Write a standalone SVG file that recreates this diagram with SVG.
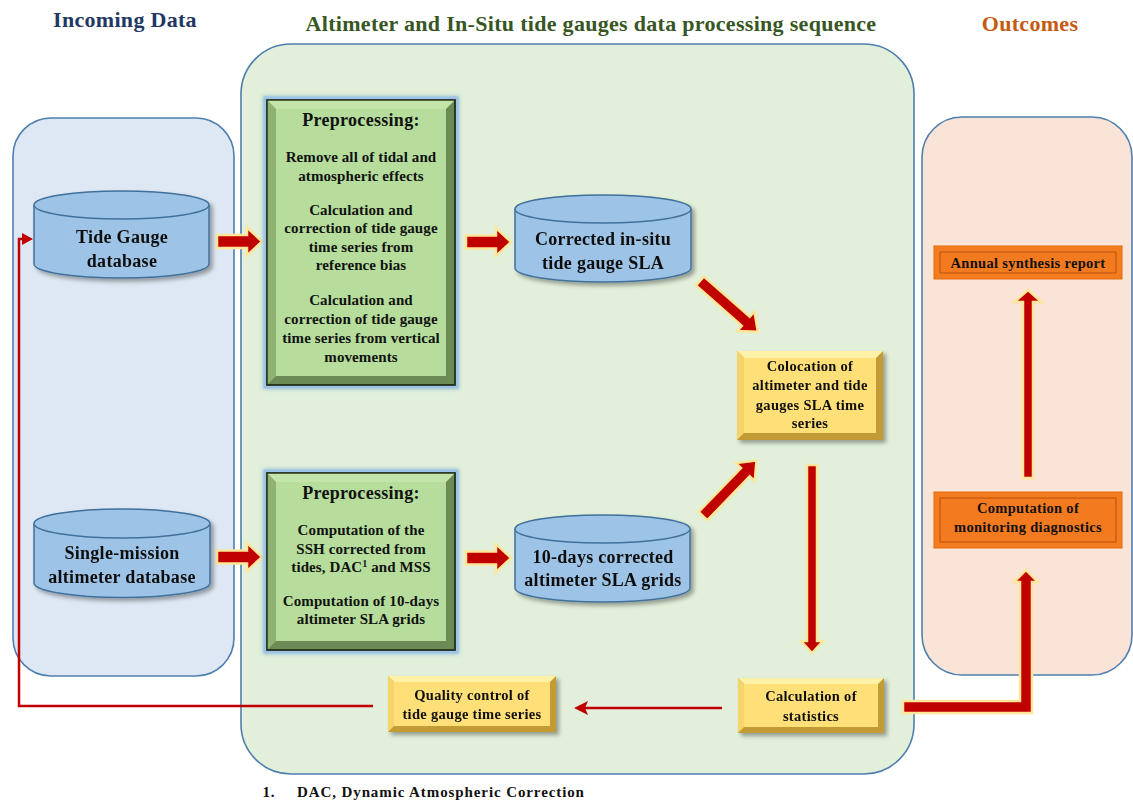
<svg xmlns="http://www.w3.org/2000/svg" width="1133" height="803" viewBox="0 0 1133 803">
<style>
text{font-family:"Liberation Serif","Times New Roman",serif;font-weight:bold;fill:#111;text-anchor:middle}
.hdr{font-size:22px;letter-spacing:0.3px}
.cyl{font-size:18px;letter-spacing:0.3px}
.ttl{font-size:18px;letter-spacing:0.3px}
.body{font-size:15px;letter-spacing:0.1px}
.sm{font-size:14.5px;letter-spacing:0.3px}
.fn{font-size:15px;letter-spacing:0.9px}
.panel{stroke:#4f7fae;stroke-width:1.6}
.cylbody{fill:#9dc3e6;stroke:#41719c;stroke-width:1.5}
.blk{fill:#c00000;stroke:#ffe699;stroke-width:2.5;stroke-linejoin:miter}
.thin{fill:none;stroke:#c00000;stroke-width:2.5}
.gdark{fill:#6c8a55;stroke:#26331e;stroke-width:1.5}
.gtop{fill:#c3e5aa}
.gleft{fill:#8fb272}
.gface{fill:#b6dd9b}
.ydark{fill:#c39b36}
.ytop{fill:#fff1a6}
.yleft{fill:#f5d46a}
.yface{fill:#ffdf78}
.oout{fill:#f47c1e;stroke:#e06a10;stroke-width:1}
.oin{fill:#f47a20;stroke:#b8520f;stroke-width:1}
</style>
<defs>
<filter id="sh" x="-10%" y="-10%" width="130%" height="140%">
<feDropShadow dx="3" dy="3" stdDeviation="2" flood-color="#000" flood-opacity="0.35"/>
</filter>
<filter id="glow" x="-10%" y="-10%" width="120%" height="120%">
<feDropShadow dx="0" dy="0" stdDeviation="2" flood-color="#5b9bd5" flood-opacity="0.8"/>
</filter>
</defs>

<!-- panels -->
<g id="panels">
<rect class="panel" x="13" y="118" width="221" height="558" rx="38" fill="#dee8f4"/>
<rect class="panel" x="241" y="44" width="673" height="730" rx="50" fill="#e2efda"/>
<rect class="panel" x="922" y="117" width="210" height="558" rx="40" fill="#f9e4d7"/>
</g>

<!-- headers -->
<g id="headers">
<text class="hdr" x="125" y="27" style="fill:#1f3864">Incoming Data</text>
<text class="hdr" x="591" y="31" style="fill:#375623">Altimeter and In-Situ tide gauges data processing sequence</text>
<text class="hdr" x="1030" y="31" style="fill:#c55a11">Outcomes</text>
</g>

<!-- connectors -->
<g id="connectors">
<path class="blk" transform="translate(217,241.5)" d="M0,-6.5 H30 V-14 L45,0 L30,14 V6.5 H0 Z"/>
<path class="blk" transform="translate(217,557)" d="M0,-6.5 H30 V-14 L45,0 L30,14 V6.5 H0 Z"/>
<path class="blk" transform="translate(466,242)" d="M0,-6.5 H30 V-14 L45,0 L30,14 V6.5 H0 Z"/>
<path class="blk" transform="translate(466,558)" d="M0,-6.5 H30 V-14 L45,0 L30,14 V6.5 H0 Z"/>
<path class="blk" transform="translate(700,281) rotate(41.3)" d="M0,-6 H61 V-13 L77,0 L61,13 V6 H0 Z"/>
<path class="blk" transform="translate(703,516) rotate(-46)" d="M0,-6 H61 V-13 L77,0 L61,13 V6 H0 Z"/>
<path class="blk" transform="translate(812,465) rotate(90)" d="M0,-5 H176 V-11 L188,0 L176,11 V5 H0 Z"/>
<path class="blk" transform="translate(1028,478) rotate(-90)" d="M0,-5 H176 V-13.5 L188,0 L176,13.5 V5 H0 Z"/>
<path class="blk" d="M903,701 H1020 V582 H1014 L1026,570 L1038,582 H1032 V713 H903 Z"/>
<line class="thin" x1="722" y1="708" x2="584" y2="708"/>
<polygon points="574,708 588,701 585,708 588,715" fill="#c00000"/>
<polyline class="thin" points="373,706 19,706 19,239 24,239"/>
<polygon points="33,239 22,233 22,245" fill="#c00000"/>
</g>

<!-- cylinders -->
<g id="tide-gauge-db" filter="url(#sh)">
<path class="cylbody" d="M34,205 V264 A87.5,14 0 0 0 209,264 V205"/>
<ellipse class="cylbody" cx="121.5" cy="205" rx="87.5" ry="14"/>
<text class="cyl" x="122" y="243">Tide Gauge</text>
<text class="cyl" x="122" y="267">database</text>
</g>
<g id="single-mission-db" filter="url(#sh)">
<path class="cylbody" d="M34,523.5 V583 A88,14.5 0 0 0 210,583 V523.5"/>
<ellipse class="cylbody" cx="122" cy="523.5" rx="88" ry="14.5"/>
<text class="cyl" x="122" y="559">Single-mission</text>
<text class="cyl" x="122" y="583">altimeter database</text>
</g>
<g id="corrected-insitu" filter="url(#sh)">
<path class="cylbody" d="M515,209 V268 A88,14 0 0 0 691,268 V209"/>
<ellipse class="cylbody" cx="603" cy="209" rx="88" ry="14"/>
<text class="cyl" x="603" y="245">Corrected in-situ</text>
<text class="cyl" x="603" y="269">tide gauge SLA</text>
</g>
<g id="ten-days-grids" filter="url(#sh)">
<path class="cylbody" d="M515,529 V588 A87.5,14 0 0 0 690,588 V529"/>
<ellipse class="cylbody" cx="602.5" cy="529" rx="87.5" ry="14"/>
<text class="cyl" x="603" y="563">10-days corrected</text>
<text class="cyl" x="603" y="586">altimeter SLA grids</text>
</g>

<!-- preprocessing boxes -->
<g id="preprocessing-tide">
<rect x="265" y="98" width="192" height="289" fill="none" stroke="#9dc3e6" stroke-width="3" filter="url(#glow)"/>
<rect class="gdark" x="267" y="100" width="188" height="285"/>
<polygon class="gleft" points="267,100 276,109 276,376 267,385"/>
<polygon class="gtop" points="267,100 455,100 446,109 276,109"/>
<rect class="gface" x="276" y="109" width="170" height="267"/>
<rect x="267" y="100" width="188" height="285" fill="none" stroke="#26331e" stroke-width="1.5"/>
<text class="ttl" x="361" y="126">Preprocessing:</text>
<text class="body" x="361" y="162">Remove all of tidal and</text>
<text class="body" x="361" y="181">atmospheric effects</text>
<text class="body" x="361" y="215">Calculation and</text>
<text class="body" x="361" y="233">correction of tide gauge</text>
<text class="body" x="361" y="252">time series from</text>
<text class="body" x="361" y="270">reference bias</text>
<text class="body" x="361" y="305">Calculation and</text>
<text class="body" x="361" y="324">correction of tide gauge</text>
<text class="body" x="361" y="343">time series from vertical</text>
<text class="body" x="361" y="362">movements</text>
</g>
<g id="preprocessing-altimeter">
<rect x="265" y="471" width="192" height="181" fill="none" stroke="#9dc3e6" stroke-width="3" filter="url(#glow)"/>
<rect class="gdark" x="267" y="473" width="188" height="177"/>
<polygon class="gleft" points="267,473 276,482 276,641 267,650"/>
<polygon class="gtop" points="267,473 455,473 446,482 276,482"/>
<rect class="gface" x="276" y="482" width="170" height="159"/>
<rect x="267" y="473" width="188" height="177" fill="none" stroke="#26331e" stroke-width="1.5"/>
<text class="ttl" x="361" y="499">Preprocessing:</text>
<text class="body" x="361" y="535">Computation of the</text>
<text class="body" x="361" y="554">SSH corrected from</text>
<text class="body" x="361" y="572">tides, DAC<tspan font-size="10" dy="-5">1</tspan><tspan dy="5"> and MSS</tspan></text>
<text class="body" x="361" y="606">Computation of 10-days</text>
<text class="body" x="361" y="624">altimeter SLA grids</text>
</g>

<!-- yellow boxes -->
<g id="colocation" filter="url(#sh)">
<rect class="ydark" x="737" y="351" width="146" height="89"/>
<polygon class="ytop" points="737,351 883,351 876,358 744,358"/>
<polygon class="yleft" points="737,351 744,358 744,433 737,440"/>
<rect class="yface" x="744" y="358" width="132" height="75"/>
<text class="sm" x="810" y="371">Colocation of</text>
<text class="sm" x="810" y="390">altimeter and tide</text>
<text class="sm" x="810" y="410">gauges SLA time</text>
<text class="sm" x="810" y="428">series</text>
</g>
<g id="quality-control" filter="url(#sh)">
<rect class="ydark" x="388" y="676" width="168" height="56"/>
<polygon class="ytop" points="388,676 556,676 550,682 394,682"/>
<polygon class="yleft" points="388,676 394,682 394,726 388,732"/>
<rect class="yface" x="394" y="682" width="156" height="44"/>
<text class="sm" x="472" y="700">Quality control of</text>
<text class="sm" x="472" y="719">tide gauge time series</text>
</g>
<g id="statistics" filter="url(#sh)">
<rect class="ydark" x="738" y="678" width="146" height="55"/>
<polygon class="ytop" points="738,678 884,678 878,684 744,684"/>
<polygon class="yleft" points="738,678 744,684 744,727 738,733"/>
<rect class="yface" x="744" y="684" width="134" height="43"/>
<text class="sm" x="811" y="701">Calculation of</text>
<text class="sm" x="811" y="721">statistics</text>
</g>

<!-- orange boxes -->
<g id="annual-report">
<rect class="oout" x="934" y="246" width="188" height="33"/>
<rect class="oin" x="940" y="252" width="176" height="21"/>
<text class="sm" x="1028" y="268">Annual synthesis report</text>
</g>
<g id="monitoring-diagnostics">
<rect class="oout" x="934" y="492" width="188" height="56"/>
<rect class="oin" x="940" y="498" width="176" height="44"/>
<text class="sm" x="1028" y="513">Computation of</text>
<text class="sm" x="1028" y="532">monitoring diagnostics</text>
</g>

<!-- footnote -->
<g id="footnote">
<text class="fn" x="269" y="797">1.</text>
<text class="fn" x="297" y="797" style="text-anchor:start">DAC, Dynamic Atmospheric Correction</text>
</g>
</svg>
